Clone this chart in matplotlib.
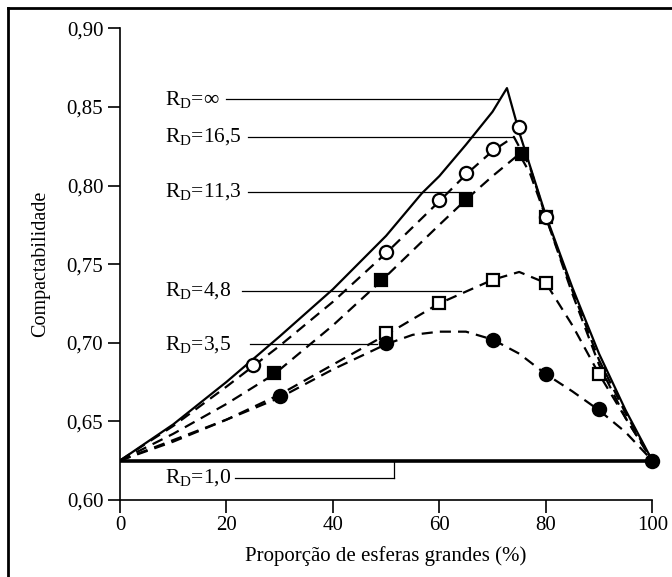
"""Compactabilidade de misturas binárias de esferas em função da proporção de esferas grandes."""

import matplotlib
matplotlib.use("Agg")
import matplotlib.pyplot as plt
from matplotlib.lines import Line2D

plt.rcParams['font.family'] = ['Liberation Serif', 'DejaVu Serif']
plt.rcParams['mathtext.default'] = 'regular'

# measured points
circ_open_x = [25, 50, 60, 65, 70, 75, 80]
circ_open_y = [0.686, 0.758, 0.791, 0.808, 0.823, 0.837, 0.780]
sq_fill_x = [29, 49, 65, 75.5]
sq_fill_y = [0.681, 0.740, 0.791, 0.820]
sq_open_x = [50, 60, 70, 80, 90, 80]
sq_open_y = [0.706, 0.725, 0.740, 0.738, 0.680, 0.780]
circ_fill_x = [30, 50, 70, 80, 90, 100]
circ_fill_y = [0.666, 0.700, 0.702, 0.680, 0.658, 0.625]

# theoretical curve R_D = infinity (solid)
inf_x = [0, 10, 20, 30, 40, 50, 56.7, 60, 65, 70, 72.7, 75, 80, 85, 90, 95, 100]
inf_y = [0.625, 0.648, 0.675, 0.704, 0.734, 0.768, 0.795, 0.806, 0.826, 0.847,
         0.862, 0.834, 0.781, 0.735, 0.693, 0.657, 0.625]

# fitted curves (dashed)
c165_x = [0, 10, 20, 25, 30, 40, 50, 60, 65, 70, 74, 77, 80, 85, 90, 95, 100]
c165_y = [0.625, 0.647, 0.672, 0.685, 0.698, 0.726, 0.757, 0.790, 0.807, 0.822,
          0.831, 0.812, 0.780, 0.733, 0.689, 0.655, 0.625]
c113_x = [0, 10, 20, 29, 40, 49, 60, 65, 70, 75, 77, 80, 85, 90, 95, 100]
c113_y = [0.625, 0.642, 0.661, 0.680, 0.711, 0.739, 0.775, 0.791, 0.806, 0.820,
          0.808, 0.780, 0.731, 0.686, 0.652, 0.625]
c48_x = [0, 10, 20, 30, 40, 50, 60, 70, 75, 80, 85, 90, 95, 100]
c48_y = [0.625, 0.637, 0.651, 0.667, 0.686, 0.705, 0.725, 0.740, 0.745, 0.738,
         0.711, 0.680, 0.652, 0.625]
c35_x = [0, 10, 20, 30, 40, 50, 55, 60, 65, 70, 75, 80, 85, 90, 95, 100]
c35_y = [0.625, 0.638, 0.651, 0.665, 0.683, 0.699, 0.705, 0.707, 0.707, 0.702,
         0.693, 0.680, 0.669, 0.657, 0.643, 0.625]
c10_x = [0, 100]
c10_y = [0.625, 0.625]

# labels: text, y of leader line, x start / end of leader
labels = ['$R_D$=∞', '$R_D$=16,5', '$R_D$=11,3', '$R_D$=4,8', '$R_D$=3,5', '$R_D$=1,0']
label_y = [0.855, 0.831, 0.796, 0.733, 0.699, 0.614]
lead_x0 = [20.0, 24.0, 24.0, 23.0, 24.4, 21.6]
lead_x1 = [71.0, 73.8, 66.0, 64.0, 48.3, 51.4]

fig = plt.figure(figsize=(6.72, 5.77), dpi=100)
ax = fig.add_axes([0.1786, 0.1338, 0.792, 0.817])

dash = dict(color='black', lw=1.6, linestyle=(0, (5, 3.2)))
ax.plot(c165_x, c165_y, **dash)
ax.plot(c113_x, c113_y, **dash)
ax.plot(c48_x, c48_y, **dash)
ax.plot(c35_x, c35_y, **dash)
ax.plot(inf_x, inf_y, color='black', lw=1.6)
ax.plot(c10_x, c10_y, color='black', lw=2.6, solid_capstyle='butt')

# leader lines
for i, (txt, yy) in enumerate(zip(labels, label_y)):
    ax.plot([lead_x0[i], lead_x1[i]], [yy, yy], color='black', lw=0.9)
    ax.text(8.4, yy, txt, fontsize=15.5, ha='left', va='center')
ax.plot([lead_x1[-1], lead_x1[-1]], [label_y[-1], 0.625], color='black', lw=0.9)

mk = dict(linestyle='none', markeredgecolor='black', markeredgewidth=1.6, clip_on=False, zorder=5)
ax.plot(sq_fill_x, sq_fill_y, marker='s', markersize=8.5, markerfacecolor='black', **mk)
ax.plot(sq_open_x, sq_open_y, marker='s', markersize=8.5, markerfacecolor='white', **mk)
ax.plot(circ_open_x, circ_open_y, marker='o', markersize=9.5, markerfacecolor='white', **mk)
ax.plot(circ_fill_x, circ_fill_y, marker='o', markersize=9.5, markerfacecolor='black', **mk)

ax.set_xlim(0, 100)
ax.set_ylim(0.60, 0.90)
ax.set_xticks([0, 20, 40, 60, 80, 100])
ax.set_yticks([0.60, 0.65, 0.70, 0.75, 0.80, 0.85, 0.90])
ax.set_yticklabels(['0,60', '0,65', '0,70', '0,75', '0,80', '0,85', '0,90'])
ax.tick_params(direction='out', length=9, width=1.2, labelsize=15, pad=3)
for side in ['top', 'right']:
    ax.spines[side].set_visible(False)
for side in ['left', 'bottom']:
    ax.spines[side].set_linewidth(1.2)

ax.set_xlabel('Proporção de esferas grandes (%)', fontsize=15, labelpad=8)
ax.set_ylabel('Compactabilidade', fontsize=14.5, labelpad=12)

# outer frame (left and top edges visible)
fig.add_artist(Line2D([0.012, 0.012], [0.0, 0.987], color='black', lw=2, transform=fig.transFigure))
fig.add_artist(Line2D([0.012, 1.0], [0.987, 0.987], color='black', lw=2, transform=fig.transFigure))

fig.savefig('out.png', dpi=100)
